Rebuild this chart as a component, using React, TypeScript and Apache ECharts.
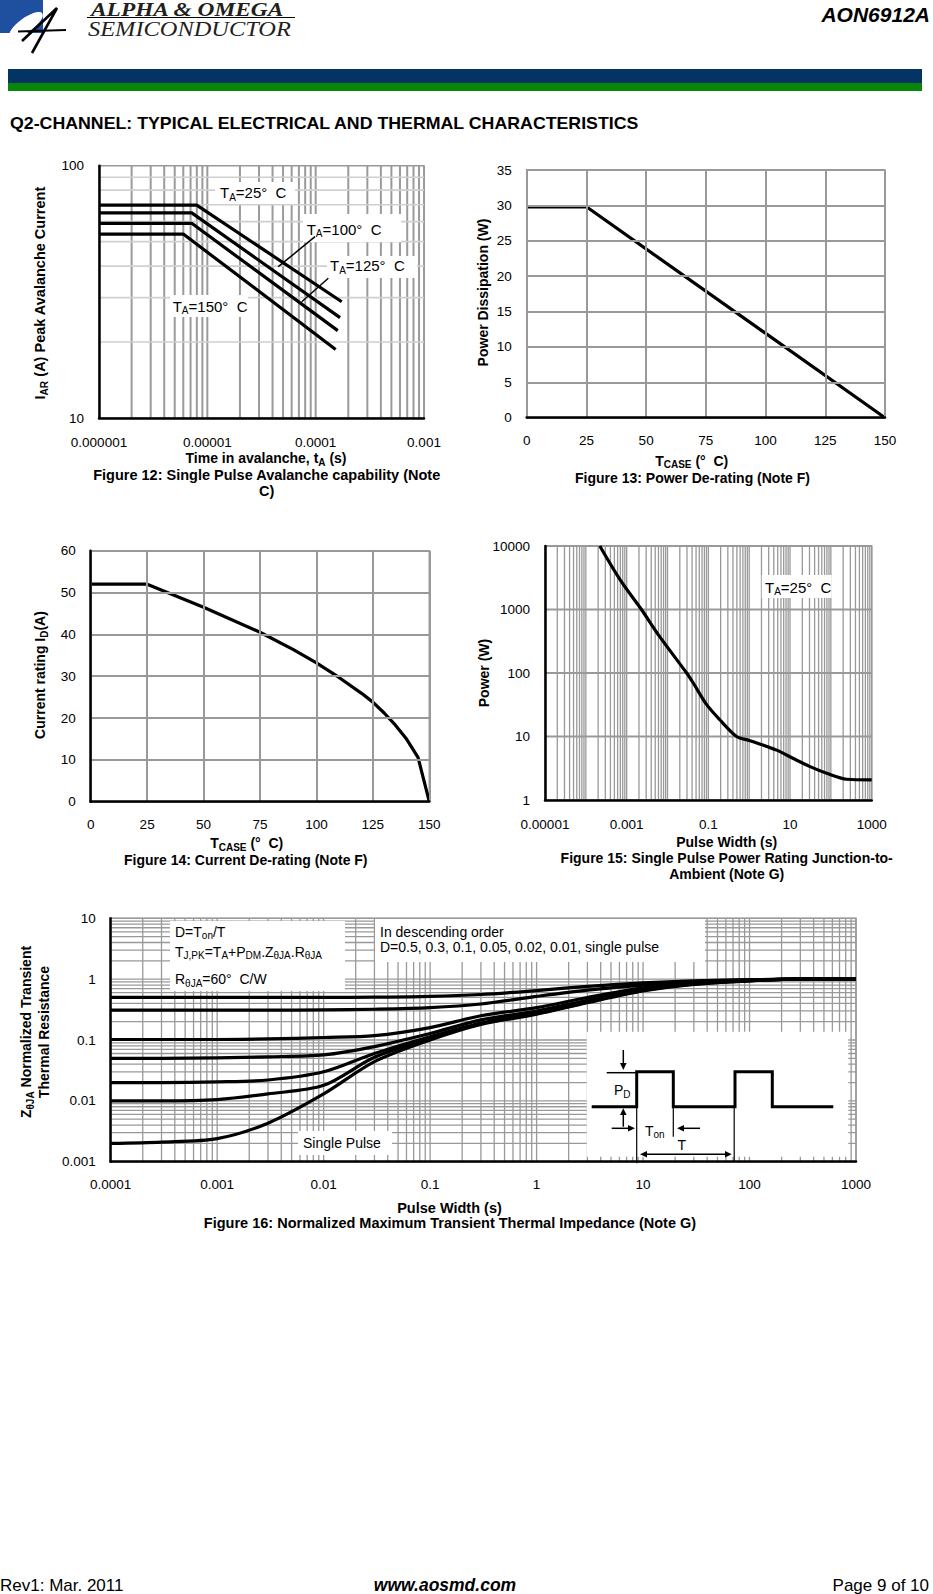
import React, { useEffect, useRef } from "react";
import * as echarts from "echarts";

const FONT = "'Liberation Sans', Arial, Helvetica, sans-serif";
const SERIF = "'Liberation Serif', 'Times New Roman', serif";

// ---------- Figure 12: Single pulse avalanche capability ----------
const fig12XTicks = ["0.000001", "0.00001", "0.0001", "0.001"];
const fig12YTicks = ["10", "100"];
const fig12Time25 = [1e-6, 7.98e-6, 1.74e-4];
const fig12Current25 = [69.8, 69.8, 28.9];
const fig12Time100 = [1e-6, 7.18e-6, 1.68e-4];
const fig12Current100 = [65.0, 65.0, 25.0];
const fig12Time125 = [1e-6, 7.18e-6, 1.6e-4];
const fig12Current125 = [59.1, 59.1, 22.2];
const fig12Time150 = [1e-6, 6.0e-6, 1.53e-4];
const fig12Current150 = [53.6, 53.6, 18.7];

// ---------- Figure 13: Power de-rating ----------
const fig13Temp = [0, 25, 150];
const fig13Power = [29.8, 29.8, 0];

// ---------- Figure 14: Current de-rating ----------
const fig14Temp = [0, 25, 50, 75, 90, 100, 110, 120, 125, 130, 135, 140, 145, 150];
const fig14Current = [52, 52, 46.5, 40.5, 36.3, 33.2, 29.7, 25.9, 23.8, 21.2, 18.3, 14.9, 10.6, 0];

// ---------- Figure 15: Single pulse power rating ----------
const fig15XTicks = ["0.00001", "0.0001", "0.001", "0.01", "0.1", "1", "10", "100", "1000"];
const fig15YTicks = ["1", "10", "100", "1000", "10000"];
const fig15Width = [2.2e-4, 7e-4, 2.3e-3, 6.5e-3, 0.0294, 0.043, 0.09, 0.193, 0.49, 1.05, 4.7, 12, 31, 79, 244, 1000];
const fig15Power = [10000, 2900, 1000, 370, 100, 69, 32, 18.2, 10, 8.6, 6.1, 4.5, 3.35, 2.63, 2.12, 2.07];

// ---------- Figure 16: Normalized transient thermal impedance ----------
const fig16XTicks = ["0.0001", "0.001", "0.01", "0.1", "1", "10", "100", "1000"];
const fig16YTicks = ["0.001", "0.01", "0.1", "1", "10"];
const fig16Width = [1e-4, 3e-4, 1e-3, 3e-3, 1e-2, 3e-2, 0.1, 0.3, 1, 3, 10, 30, 100, 300, 1000];
const fig16D050 = [0.5, 0.5, 0.5, 0.5, 0.5, 0.505, 0.52, 0.56, 0.65, 0.76, 0.87, 0.94, 0.98, 1.0, 1.0];
const fig16D030 = [0.31, 0.31, 0.31, 0.31, 0.312, 0.32, 0.34, 0.39, 0.52, 0.66, 0.8, 0.9, 0.97, 1.0, 1.0];
const fig16D010 = [0.102, 0.102, 0.102, 0.104, 0.11, 0.118, 0.16, 0.25, 0.34, 0.5, 0.72, 0.87, 0.96, 1.0, 1.0];
const fig16D005 = [0.05, 0.05, 0.051, 0.053, 0.057, 0.078, 0.128, 0.214, 0.3, 0.45, 0.68, 0.85, 0.95, 1.0, 1.0];
const fig16D002 = [0.02, 0.02, 0.0205, 0.022, 0.03, 0.06, 0.113, 0.19, 0.28, 0.43, 0.66, 0.84, 0.95, 1.0, 1.0];
const fig16D001 = [0.01, 0.01, 0.0105, 0.013, 0.018, 0.052, 0.107, 0.185, 0.27, 0.42, 0.65, 0.83, 0.94, 1.0, 1.0];
const fig16Single = [0.002, 0.0021, 0.0024, 0.0043, 0.013, 0.044, 0.1, 0.18, 0.265, 0.41, 0.64, 0.82, 0.94, 1.0, 1.0];

// ---------- helpers ----------
function zip(xs: number[], ys: number[]) {
  return xs.map((x, i) => [x, ys[i]]);
}

function logGridValues(minExp: number, maxExp: number, skipFirst: boolean) {
  const out: number[] = [];
  for (let e = minExp; e < maxExp; e++) {
    for (let k = 1; k <= 9; k++) {
      if (skipFirst && e === minExp && k === 1) continue;
      out.push(k * Math.pow(10, e));
    }
  }
  out.push(Math.pow(10, maxExp));
  return out;
}

function vGrid(idx: number, vals: number[], yMin: number, yMax: number, color: string, width: number) {
  return {
    type: "custom",
    xAxisIndex: idx,
    yAxisIndex: idx,
    silent: true,
    z: 1,
    data: vals.map((v) => [v, yMin]),
    renderItem: (_p: any, api: any) => {
      const x = api.value(0);
      const a = api.coord([x, yMin]);
      const b = api.coord([x, yMax]);
      return {
        type: "line",
        shape: { x1: a[0], y1: a[1], x2: b[0], y2: b[1] },
        style: { stroke: color, lineWidth: width },
      };
    },
  };
}

function hGrid(idx: number, vals: number[], xMin: number, xMax: number, color: string, width: number) {
  return {
    type: "custom",
    xAxisIndex: idx,
    yAxisIndex: idx,
    silent: true,
    z: 1,
    data: vals.map((v) => [xMin, v]),
    renderItem: (_p: any, api: any) => {
      const y = api.value(1);
      const a = api.coord([xMin, y]);
      const b = api.coord([xMax, y]);
      return {
        type: "line",
        shape: { x1: a[0], y1: a[1], x2: b[0], y2: b[1] },
        style: { stroke: color, lineWidth: width },
      };
    },
  };
}

function curve(idx: number, name: string, xs: number[], ys: number[], smooth: number) {
  return {
    type: "line",
    name,
    xAxisIndex: idx,
    yAxisIndex: idx,
    data: zip(xs, ys),
    showSymbol: false,
    symbol: "none",
    smooth: smooth > 0 ? smooth : false,
    silent: true,
    z: 3,
    lineStyle: { color: "#000", width: 3.2, join: "round" },
  };
}

function rich(size: number, weight: string) {
  const sub = Math.round(size * 0.68);
  return {
    n: { fontSize: size, fontWeight: weight, fontFamily: FONT, fill: "#000", lineHeight: size + 4 },
    s: { fontSize: sub, fontWeight: weight, fontFamily: FONT, fill: "#000", lineHeight: sub + 1, verticalAlign: "bottom" },
  };
}

function txt(x: number, y: number, text: string, opts: any = {}) {
  const size = opts.size || 14;
  const weight = opts.weight || "normal";
  return {
    type: "text",
    x,
    y,
    z: 60,
    rotation: opts.rotation || 0,
    scaleX: opts.scaleX || 1,
    silent: true,
    style: {
      text,
      fontFamily: opts.family || FONT,
      fontSize: size,
      fontWeight: weight,
      fontStyle: opts.italic ? "italic" : "normal",
      fill: opts.color || "#000",
      align: opts.align || "left",
      verticalAlign: "middle",
      rich: rich(size, weight),
      lineHeight: opts.lineHeight,
    },
  };
}

function box(x: number, y: number, w: number, h: number) {
  return { type: "rect", z: 50, silent: true, shape: { x, y, width: w, height: h }, style: { fill: "#fff" } };
}

function seg(x1: number, y1: number, x2: number, y2: number, w: number) {
  return { type: "line", z: 61, silent: true, shape: { x1, y1, x2, y2 }, style: { stroke: "#000", lineWidth: w } };
}

function poly(points: number[][], w: number) {
  return { type: "polyline", z: 61, silent: true, shape: { points }, style: { stroke: "#000", lineWidth: w, fill: null } };
}

function tri(points: number[][]) {
  return { type: "polygon", z: 61, silent: true, shape: { points }, style: { fill: "#000" } };
}

function expIndex(v: number, base: number) {
  return Math.round(Math.log10(v)) - base;
}

const labelStyle = { color: "#000", fontFamily: FONT, fontSize: 13.5 };
const GRAY = "#999";

function logAxis(idx: number, min: number, max: number, ticks: string[], base: number, margin: number, skipOdd?: boolean) {
  return {
    type: "log",
    logBase: 10,
    gridIndex: idx,
    min,
    max,
    z: 5,
    axisLine: { show: true, lineStyle: { color: "#000", width: 2.5 } },
    axisTick: { show: false },
    splitLine: { show: false },
    minorSplitLine: { show: false },
    axisLabel: {
      ...labelStyle,
      margin,
      formatter: (v: number) => {
        const i = expIndex(v, base);
        if (skipOdd && i % 2 === 1) return "";
        return ticks[i] ?? "";
      },
    },
  };
}

function valAxis(idx: number, min: number, max: number, interval: number, margin: number, lineColor: string) {
  return {
    type: "value",
    gridIndex: idx,
    min,
    max,
    interval,
    z: 5,
    axisLine: { show: true, lineStyle: { color: lineColor, width: lineColor === "#000" ? 2.5 : 2 } },
    axisTick: { show: false },
    splitLine: { show: true, lineStyle: { color: GRAY, width: 2 } },
    axisLabel: { ...labelStyle, margin },
  };
}

function buildOption() {
  const grids = [
    { left: 99, top: 165.7, width: 325, height: 252.3 },
    { left: 526.7, top: 170, width: 358.3, height: 247.7 },
    { left: 90.7, top: 550.7, width: 338.6, height: 251 },
    { left: 545, top: 546, width: 326.7, height: 254 },
    { left: 110.7, top: 918.3, width: 745.3, height: 243.4 },
  ].map((g) => ({ ...g, show: true, borderColor: GRAY, borderWidth: 1.5, outerBoundsMode: "none", containLabel: false }));

  const xAxis = [
    logAxis(0, 1e-6, 1e-3, fig12XTicks, -6, 17),
    valAxis(1, 0, 150, 25, 16, "#000"),
    valAxis(2, 0, 150, 25, 16, "#000"),
    logAxis(3, 1e-5, 1e3, fig15XTicks, -5, 17, true),
    logAxis(4, 1e-4, 1e3, fig16XTicks, -4, 16),
  ];
  const yAxis = [
    logAxis(0, 10, 100, fig12YTicks, 1, 15),
    valAxis(1, 0, 35, 5, 15, GRAY),
    valAxis(2, 0, 60, 10, 15, "#000"),
    logAxis(3, 1, 1e4, fig15YTicks, 0, 15),
    logAxis(4, 1e-3, 10, fig16YTicks, -3, 15),
  ];

  const series: any[] = [
    // gridlines
    vGrid(0, logGridValues(-6, -3, true), 10, 100, "#9a9a9a", 2),
    hGrid(0, [20, 30, 40, 50, 60, 70, 80, 90], 1e-6, 1e-3, "#cfcfcf", 1.6),
    vGrid(3, logGridValues(-5, 3, true), 1, 1e4, GRAY, 1.3),
    hGrid(3, [10, 100, 1000, 10000], 1e-5, 1e3, GRAY, 2),
    vGrid(4, logGridValues(-4, 3, true), 1e-3, 10, GRAY, 1.3),
    hGrid(4, logGridValues(-3, 1, true), 1e-4, 1e3, GRAY, 1.3),
    // curves
    curve(0, "TA=25°C", fig12Time25, fig12Current25, 0),
    curve(0, "TA=100°C", fig12Time100, fig12Current100, 0),
    curve(0, "TA=125°C", fig12Time125, fig12Current125, 0),
    curve(0, "TA=150°C", fig12Time150, fig12Current150, 0),
    curve(1, "Power Dissipation", fig13Temp, fig13Power, 0),
    curve(2, "Current rating", fig14Temp, fig14Current, 0),
    curve(3, "Power", fig15Width, fig15Power, 0.3),
    curve(4, "D=0.5", fig16Width, fig16D050, 0.3),
    curve(4, "D=0.3", fig16Width, fig16D030, 0.3),
    curve(4, "D=0.1", fig16Width, fig16D010, 0.3),
    curve(4, "D=0.05", fig16Width, fig16D005, 0.3),
    curve(4, "D=0.02", fig16Width, fig16D002, 0.3),
    curve(4, "D=0.01", fig16Width, fig16D001, 0.3),
    curve(4, "Single Pulse", fig16Width, fig16Single, 0.3),
  ];

  const B = "bold";
  const PI2 = Math.PI / 2;
  const elements: any[] = [
    // ---- header / logo ----
    { type: "rect", z: 40, shape: { x: 0, y: 0, width: 43, height: 33 }, style: { fill: "#1f4f9f" } },
    { type: "ellipse", z: 41, x: 26, y: 25, rotation: 0.62, shape: { cx: 0, cy: 0, rx: 20, ry: 7 }, style: { fill: "#fff" } },
    poly([[22, 41], [57, 8], [32, 53]], 2.6),
    seg(18, 31.5, 66, 30, 2),
    txt(91, 9.5, "ALPHA & OMEGA", { family: SERIF, size: 18, weight: "bold", italic: true, scaleX: 1.3, color: "#231f20" }),
    seg(87, 17.5, 295, 17.5, 1.2),
    txt(88, 29, "SEMICONDUCTOR", { family: SERIF, size: 20, italic: true, scaleX: 1.22, color: "#231f20" }),
    txt(930, 14, "AON6912A", { size: 21, weight: B, italic: true, align: "right" }),
    { type: "rect", z: 40, shape: { x: 8, y: 69, width: 914, height: 14 }, style: { fill: "#043464" } },
    { type: "rect", z: 40, shape: { x: 8, y: 83, width: 914, height: 8 }, style: { fill: "#07860a" } },
    txt(10, 124, "Q2-CHANNEL: TYPICAL ELECTRICAL AND THERMAL CHARACTERISTICS", { size: 16, weight: B, scaleX: 1.11 }),

    // ---- Figure 12 ----
    box(215, 182, 80, 22),
    txt(220, 192.5, "{n|T}{s|A}{n|=25°  C}", { size: 15 }),
    box(303, 214, 98, 28),
    txt(306.7, 229, "{n|T}{s|A}{n|=100°  C}", { size: 15 }),
    box(327, 256, 90, 22),
    txt(330, 265.5, "{n|T}{s|A}{n|=125°  C}", { size: 15 }),
    box(170, 295, 78, 22),
    txt(172.7, 306, "{n|T}{s|A}{n|=150°  C}", { size: 15 }),
    seg(315, 236.7, 278.3, 266.7, 1.5),
    seg(328.3, 278.3, 301.7, 301.7, 1.5),
    txt(266, 458, "{n|Time in avalanche, t}{s|A}{n| (s)}", { size: 14, weight: B, align: "center" }),
    txt(40, 293, "{n|I}{s|AR}{n| (A) Peak Avalanche Current}", { size: 14.5, weight: B, align: "center", rotation: PI2 }),
    txt(266.7, 475, "Figure 12: Single Pulse Avalanche capability (Note", { size: 14.5, weight: B, align: "center" }),
    txt(266.7, 491, "C)", { size: 14.5, weight: B, align: "center" }),

    // ---- Figure 13 ----
    txt(483, 292.5, "Power Dissipation (W)", { size: 14, weight: B, align: "center", rotation: PI2 }),
    txt(691.7, 460.7, "{n|T}{s|CASE}{n| (°  C)}", { size: 14, weight: B, align: "center" }),
    txt(692.5, 478.3, "Figure 13: Power De-rating (Note F)", { size: 14, weight: B, align: "center" }),

    // ---- Figure 14 ----
    txt(40, 675, "{n|Current rating I}{s|D}{n|(A)}", { size: 14, weight: B, align: "center", rotation: PI2 }),
    txt(246.7, 843.3, "{n|T}{s|CASE}{n| (°  C)}", { size: 14, weight: B, align: "center" }),
    txt(245.8, 860, "Figure 14: Current De-rating (Note F)", { size: 14, weight: B, align: "center" }),

    // ---- Figure 15 ----
    box(761.7, 575, 70, 23),
    txt(765, 587, "{n|T}{s|A}{n|=25°  C}", { size: 15 }),
    txt(484, 673, "Power (W)", { size: 14, weight: B, align: "center", rotation: PI2 }),
    txt(726.7, 841.7, "Pulse Width (s)", { size: 14, weight: B, align: "center" }),
    txt(726.7, 858.3, "Figure 15: Single Pulse Power Rating Junction-to-", { size: 14, weight: B, align: "center" }),
    txt(726.7, 874, "Ambient (Note G)", { size: 14, weight: B, align: "center" }),

    // ---- Figure 16 ----
    box(170, 921, 175, 70),
    txt(175, 931.7, "{n|D=T}{s|on}{n|/T}", { size: 14 }),
    txt(175, 951.7, "{n|T}{s|J,PK}{n|=T}{s|A}{n|+P}{s|DM}{n|.Z}{s|θJA}{n|.R}{s|θJA}", { size: 14 }),
    txt(175, 979.3, "{n|R}{s|θJA}{n|=60°  C/W}", { size: 14 }),
    box(375, 919, 330, 43),
    txt(380, 931.7, "In descending order", { size: 14 }),
    txt(380, 947.3, "D=0.5, 0.3, 0.1, 0.05, 0.02, 0.01, single pulse", { size: 14 }),
    box(298, 1131, 94, 24),
    txt(303, 1143.3, "Single Pulse", { size: 14 }),
    // inset pulse diagram
    box(586.7, 1031.7, 261.6, 125),
    poly(
      [
        [591.7, 1106.7], [636.7, 1106.7], [636.7, 1071.7], [673.3, 1071.7], [673.3, 1106.7],
        [735, 1106.7], [735, 1071.7], [772.3, 1071.7], [772.3, 1106.7], [833.3, 1106.7],
      ],
      3
    ),
    seg(636.7, 1106.7, 636.7, 1163.3, 1.2),
    seg(673.3, 1108, 673.3, 1136.7, 1.2),
    seg(734.2, 1108, 734.2, 1161.7, 1.2),
    seg(606.7, 1072.7, 636.7, 1072.7, 1.5),
    seg(623.3, 1050, 623.3, 1064, 1.5),
    tri([[620, 1063], [626.6, 1063], [623.3, 1070]]),
    seg(623.3, 1126.7, 623.3, 1114, 1.5),
    tri([[620, 1115], [626.6, 1115], [623.3, 1108.3]]),
    seg(611.7, 1128.3, 629, 1128.3, 1.5),
    tri([[628, 1125], [628, 1131.6], [635, 1128.3]]),
    seg(700, 1128.3, 683, 1128.3, 1.5),
    tri([[684, 1125], [684, 1131.6], [677, 1128.3]]),
    seg(646, 1154.3, 726, 1154.3, 1.5),
    tri([[647, 1151], [647, 1157.6], [640, 1154.3]]),
    tri([[725, 1151], [725, 1157.6], [731.7, 1154.3]]),
    txt(614, 1090, "{n|P}{s|D}", { size: 14 }),
    txt(645, 1130.7, "{n|T}{s|on}", { size: 14 }),
    txt(681.7, 1145, "T", { size: 14, align: "center" }),
    txt(35, 1032, "{n|Z}{s|θJA}{n| Normalized Transient}\n{n|Thermal Resistance}", { size: 14, weight: B, align: "center", rotation: PI2 }),
    txt(449.5, 1208, "Pulse Width (s)", { size: 14.5, weight: B, align: "center" }),
    txt(450, 1223, "Figure 16: Normalized Maximum Transient Thermal Impedance (Note G)", { size: 14.5, weight: B, align: "center" }),

    // ---- footer ----
    txt(0, 1585, "Rev1: Mar. 2011", { size: 17 }),
    txt(445, 1585, "www.aosmd.com", { size: 17.5, weight: B, italic: true, align: "center" }),
    txt(929, 1585, "Page 9 of 10", { size: 17, align: "right" }),
  ];

  return {
    animation: false,
    backgroundColor: "#fff",
    textStyle: { fontFamily: FONT },
    grid: grids,
    xAxis,
    yAxis,
    series,
    graphic: { elements },
  };
}

export default function App() {
  const ref = useRef<HTMLDivElement>(null);
  useEffect(() => {
    document.body.style.margin = "0";
    const chart = echarts.init(ref.current as HTMLDivElement, null, { renderer: "svg" });
    chart.setOption(buildOption() as any);
    return () => chart.dispose();
  }, []);
  return <div ref={ref} style={{ width: 933, height: 1594 }} />;
}
